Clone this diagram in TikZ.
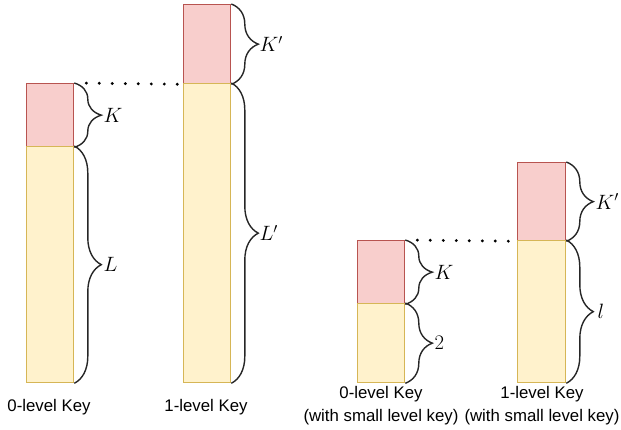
\documentclass[tikz,border=0pt]{standalone}
\usepackage{fontspec}
\setmainfont{Liberation Sans}
\usetikzlibrary{decorations.pathreplacing}
\definecolor{pinkfill}{HTML}{F8CECC}
\definecolor{pinkdraw}{HTML}{B85450}
\definecolor{yelfill}{HTML}{FFF2CC}
\definecolor{yeldraw}{HTML}{D6B656}
\begin{document}
\begin{tikzpicture}[x=1pt,y=-1pt,
  kbox/.style={draw=pinkdraw,fill=pinkfill,line width=1.3pt,inner sep=0pt,anchor=north west},
  lbox/.style={draw=yeldraw,fill=yelfill,line width=1.3pt,inner sep=0pt,anchor=north west},
  brc/.style={decorate,decoration={brace,amplitude=27pt},line width=1.4pt,draw=black!85},
  mlab/.style={font=\fontsize{20.74}{24}\selectfont,inner sep=1pt,anchor=west},
  tlab/.style={font=\fontsize{16.8}{23}\selectfont,align=center,inner sep=0pt},
  dotline/.style={line width=3.2pt,line cap=round,dash pattern=on 0pt off 13pt,dash phase=-12pt}]
\useasboundingbox (0,0) rectangle (621,430);
% column 1
\node[kbox,minimum width=47pt,minimum height=63pt] (k1) at (26,83) {};
\node[lbox,minimum width=47pt,minimum height=236pt] (l1) at (26,146) {};
% column 2
\node[kbox,minimum width=47pt,minimum height=79pt] (k2) at (183,4) {};
\node[lbox,minimum width=47pt,minimum height=299pt] (l2) at (183,83) {};
% column 3
\node[kbox,minimum width=47pt,minimum height=63pt] (k3) at (357,240) {};
\node[lbox,minimum width=47pt,minimum height=79pt] (l3) at (357,303) {};
% column 4
\node[kbox,minimum width=48pt,minimum height=78pt] (k4) at (517,162) {};
\node[lbox,minimum width=48pt,minimum height=142pt] (l4) at (517,240) {};
% dotted guides
\draw[dotline] (k1.north east) -- (k2.south west);
\draw[dotline] (k3.north east) -- (k4.south west);
% braces
\draw[brc] (k1.north east) -- (k1.south east);
\draw[brc] (l1.north east) -- (l1.south east);
\draw[brc] (k2.north east) -- (k2.south east);
\draw[brc] (l2.north east) -- (l2.south east);
\draw[brc] (k3.north east) -- (k3.south east);
\draw[brc] (l3.north east) -- (l3.south east);
\draw[brc] (k4.north east) -- (k4.south east);
\draw[brc] (l4.north east) -- (l4.south east);
% math labels
\node[mlab] (mk1) at ([xshift=28pt]k1.east) {$K$};
\node[mlab] (ml1) at ([xshift=28pt]l1.east) {$L$};
\node[mlab] (mk2) at ([xshift=27pt]k2.east) {$K'$};
\node[mlab] (ml2) at ([xshift=27pt]l2.east) {$L'$};
\node[mlab] (mk3) at ([xshift=28pt]k3.east) {$K$};
\node[mlab] (ml3) at ([xshift=28pt]l3.east) {$2$};
\node[mlab] (mk4) at ([xshift=28pt]k4.east) {$K'$};
\node[mlab] (ml4) at ([xshift=30pt]l4.east) {$l$};
% text labels
\node[tlab] (t1) at (49,407) {0-level Key};
\node[tlab] (t2) at (206,407) {1-level Key};
\node[tlab] (t3) at (381,406) {0-level Key\\(with small level key)};
\node[tlab] (t4) at (542,406) {1-level Key\\(with small level key)};
\end{tikzpicture}
\end{document}
